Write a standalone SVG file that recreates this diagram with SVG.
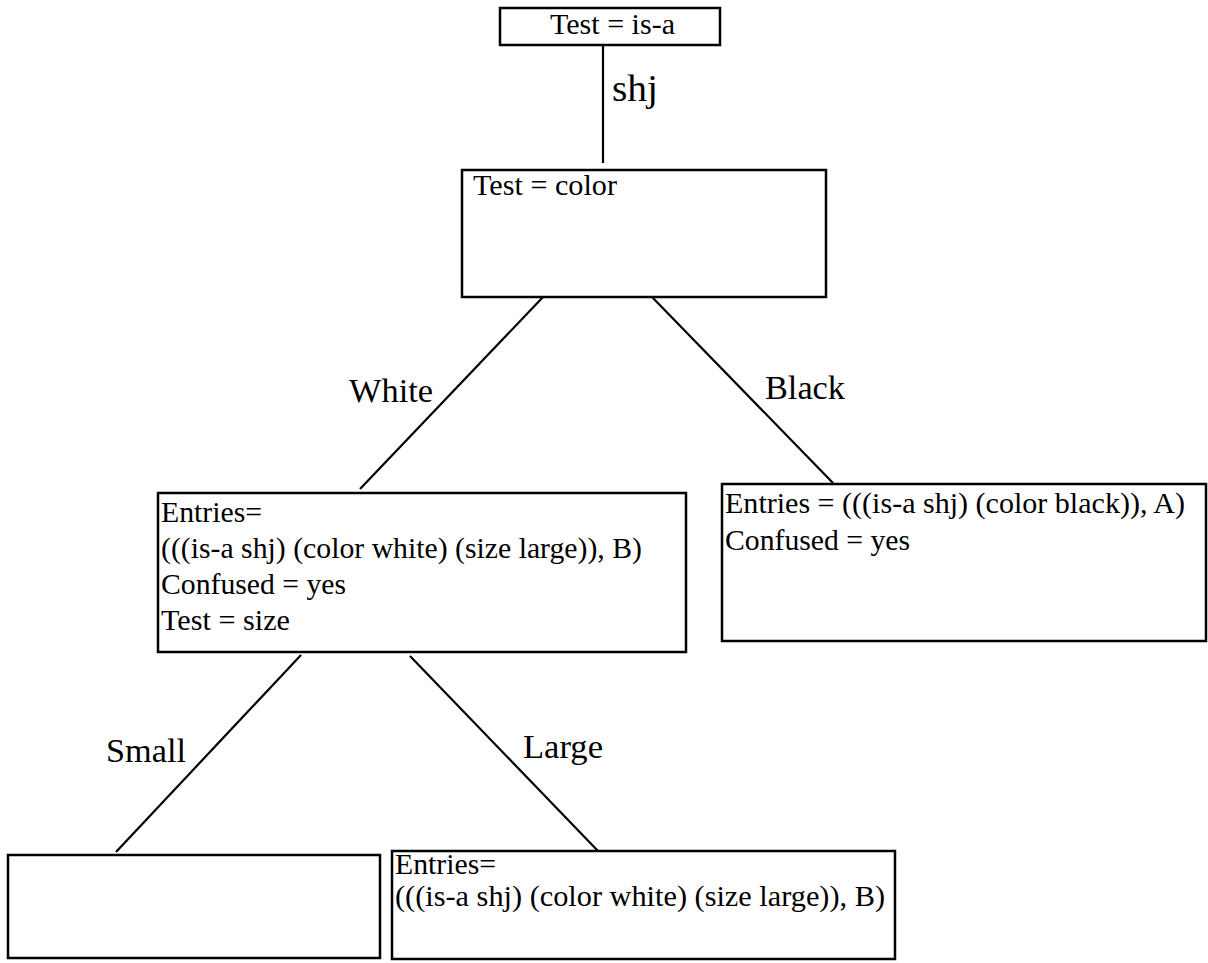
<svg xmlns="http://www.w3.org/2000/svg" width="1208" height="963" viewBox="0 0 1208 963">
<style>
.box{fill:#fff;stroke:#000;stroke-width:2.5}
text{font-family:'Liberation Serif','DejaVu Serif',serif;fill:#000}
.t{font-size:29px}
.lbl{font-size:34px}
.edge{stroke:#000;stroke-width:2.2;fill:none}
</style>
<rect width="1208" height="963" fill="#fff"/>
<g id="connectors">
<line class="edge" x1="603" y1="45" x2="603" y2="163"/>
<line class="edge" x1="544" y1="296" x2="360" y2="489"/>
<line class="edge" x1="652" y1="297" x2="833" y2="483"/>
<line class="edge" x1="301" y1="655" x2="116" y2="852"/>
<line class="edge" x1="410" y1="656" x2="598" y2="851"/>
<text class="lbl" x="612" y="101" style="font-size:37px" textLength="46" lengthAdjust="spacingAndGlyphs">shj</text>
<text class="lbl" x="349" y="402" textLength="84" lengthAdjust="spacingAndGlyphs">White</text>
<text class="lbl" x="765" y="399" textLength="80" lengthAdjust="spacingAndGlyphs">Black</text>
<text class="lbl" x="106" y="762" textLength="80" lengthAdjust="spacingAndGlyphs">Small</text>
<text class="lbl" x="523" y="758" textLength="80" lengthAdjust="spacingAndGlyphs">Large</text>
</g>
<g id="node-root">
<rect class="box" x="500" y="8" width="220" height="37"/>
<text class="t" x="550" y="34" textLength="125" lengthAdjust="spacingAndGlyphs">Test = is-a</text>
</g>
<g id="node-color">
<rect class="box" x="462" y="170" width="364" height="127"/>
<text class="t" x="473" y="195" textLength="144" lengthAdjust="spacingAndGlyphs">Test = color</text>
</g>
<g id="node-white">
<rect class="box" x="158" y="493" width="528" height="159"/>
<text class="t" x="161" y="522" textLength="101" lengthAdjust="spacingAndGlyphs">Entries=</text>
<text class="t" x="161" y="558" textLength="481" lengthAdjust="spacingAndGlyphs">(((is-a shj) (color white) (size large)), B)</text>
<text class="t" x="161" y="594" textLength="185" lengthAdjust="spacingAndGlyphs">Confused = yes</text>
<text class="t" x="161" y="630" textLength="129" lengthAdjust="spacingAndGlyphs">Test = size</text>
</g>
<g id="node-black">
<rect class="box" x="722" y="484" width="484" height="157"/>
<text class="t" x="725" y="513" textLength="460" lengthAdjust="spacingAndGlyphs">Entries = (((is-a shj) (color black)), A)</text>
<text class="t" x="725" y="550" textLength="185" lengthAdjust="spacingAndGlyphs">Confused = yes</text>
</g>
<g id="node-small">
<rect class="box" x="8" y="855" width="372" height="103"/>
</g>
<g id="node-large">
<rect class="box" x="392" y="851" width="503" height="108"/>
<text class="t" x="395" y="874" textLength="101" lengthAdjust="spacingAndGlyphs">Entries=</text>
<text class="t" x="395" y="906" textLength="490" lengthAdjust="spacingAndGlyphs">(((is-a shj) (color white) (size large)), B)</text>
</g>
</svg>
